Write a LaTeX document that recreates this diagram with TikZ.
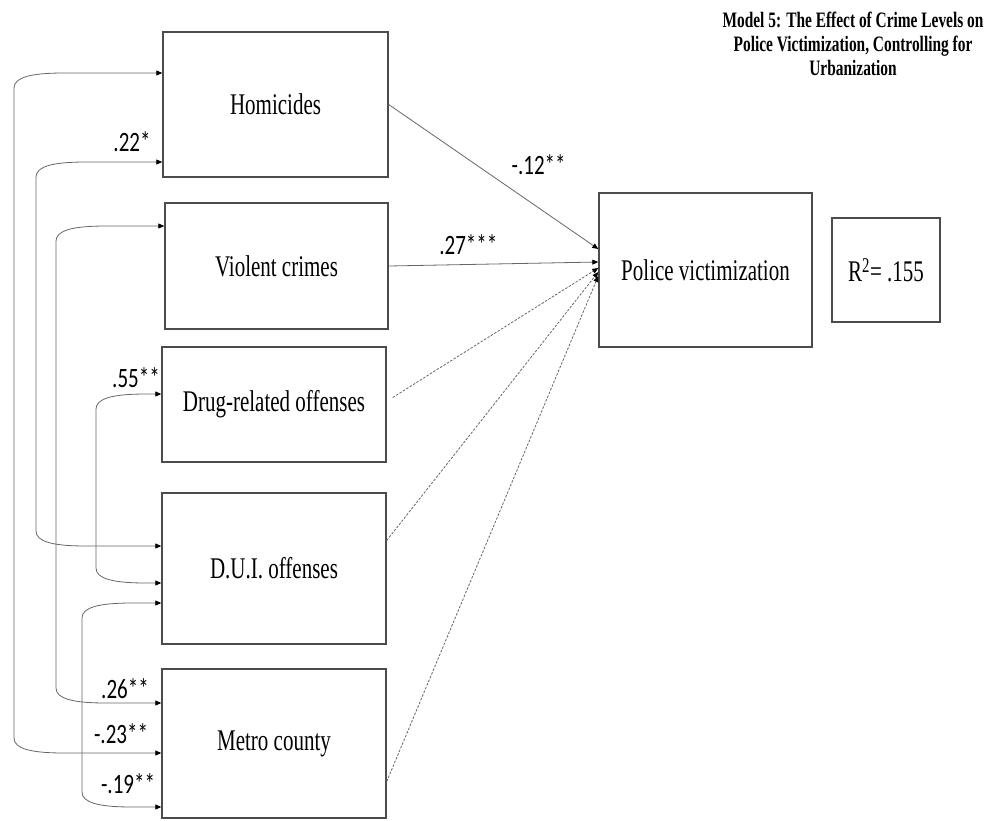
\documentclass[tikz,border=0pt]{standalone}
\usepackage{fontspec}
\setmainfont{Liberation Serif}
\newfontfamily\boxfont[FakeStretch=0.7]{Liberation Serif}
\newfontfamily\coeffont[FakeStretch=0.75]{Carlito}
\newfontfamily\titlefont[FakeStretch=0.7]{Liberation Serif}
\usetikzlibrary{arrows.meta,calc}

\begin{document}
\begin{tikzpicture}[x=1pt, y=-1pt,
  var/.style={draw=black!70, line width=1.4pt, inner sep=0pt,
    font=\boxfont\fontsize{30}{34}\selectfont},
  coef/.style={font=\coeffont\fontsize{28}{30}\selectfont, inner sep=1pt},
  effect/.style={draw=black!60, line width=0.8pt, -{Triangle[length=6pt,width=5pt,color=black]}},
  nsig/.style={effect, dash pattern=on 2.5pt off 1.5pt},
  corr/.style={draw=black!60, line width=0.8pt,
    {Triangle[length=6pt,width=5pt,color=black]}-{Triangle[length=6pt,width=5pt,color=black]}}]

  \useasboundingbox (0,0) rectangle (987,820);

  \def\sweep{50pt}
  \def\drop{15pt}

  % predictors
  \node[var, minimum width=225pt, minimum height=145pt] (hom) at (275.5,104.5) {Homicides};
  \node[var, minimum width=223pt, minimum height=126pt] (vio) at (276.5,266) {Violent crimes};
  \node[var, minimum width=224pt, minimum height=115pt] (dru) at (274,404.5) {Drug-related offenses};
  \node[var, minimum width=224pt, minimum height=151pt] (dui) at (274,568.5) {D.U.I. offenses};
  \node[var, minimum width=224pt, minimum height=149pt] (met) at (274,743.5) {Metro county};

  % outcome
  \node[var, minimum width=213pt, minimum height=154pt] (pol) at (705.5,270) {Police victimization};
  \node[var, minimum width=108pt, minimum height=104pt] (rsq) at (886,270) {R\textsuperscript{2}= .155};

  \node[font=\titlefont\bfseries\fontsize{22}{24}\selectfont, align=center] (title) at (853,44)
    {Model 5: The Effect of Crime Levels on\\ Police Victimization, Controlling for\\ Urbanization};

  % ends of the paths
  \coordinate (t1) at ([yshift=21pt]pol.west);
  \coordinate (t2) at ([yshift=8pt]pol.west);
  \coordinate (t3) at ([yshift=2pt]pol.west);
  \coordinate (t4) at ([yshift=-2pt]pol.west);
  \coordinate (t5) at ([yshift=-6pt]pol.west);
  \coordinate (s3) at ([xshift=6pt,yshift=7pt]dru.east);
  \coordinate (s4) at ([yshift=28pt]dui.east);
  \coordinate (s5) at ([yshift=-38pt]met.east);

  \draw[effect] (hom.east) -- (t1) node[coef, pos=.58, above right, yshift=12pt] {-.12**};
  \draw[effect] (vio.east) -- (t2) node[coef, pos=.38, above, yshift=8pt] {.27***};
  \draw[nsig] (s3) -- (t3);
  \draw[nsig] (s4) -- (t4);
  \draw[nsig] (s5) -- (t5);

  % ends of the correlations
  \coordinate (hom-a) at (hom.west |- 0,73);
  \coordinate (hom-b) at (hom.west |- 0,162);
  \coordinate (vio-a) at (vio.west |- 0,226);
  \coordinate (dru-a) at (dru.west |- 0,394);
  \coordinate (dui-a) at (dui.west |- 0,546);
  \coordinate (dui-b) at (dui.west |- 0,583);
  \coordinate (dui-c) at (dui.west |- 0,603);
  \coordinate (met-a) at (met.west |- 0,703);
  \coordinate (met-b) at (met.west |- 0,753);
  \coordinate (met-c) at (met.west |- 0,807);

  \foreach \sx/\a/\b in {14/hom-a/met-b, 36/hom-b/dui-a, 56/vio-a/met-a,
                         96/dru-a/dui-b, 82/dui-c/met-c} {
    \coordinate (sp) at (\sx,0);
    \draw[corr] let \p1=(\a), \p2=(\b), \p3=(sp) in
      (\a) -- (\x3+\sweep,\y1)
        .. controls (\x3+18pt,\y1) and (\x3,\y1-4pt) .. (\x3,\y1-\drop)
        -- (\x3,\y2+\drop)
        .. controls (\x3,\y2+4pt) and (\x3+18pt,\y2) .. (\x3+\sweep,\y2)
        -- (\b);
  }

  \node[coef] (r1) at (132,142) {.22*};
  \node[coef] (r2) at (136,378) {.55**};
  \node[coef] (r3) at (125,689) {.26**};
  \node[coef] (r4) at (121,734) {-.23**};
  \node[coef] (r5) at (128,784) {-.19**};
\end{tikzpicture}
\end{document}
